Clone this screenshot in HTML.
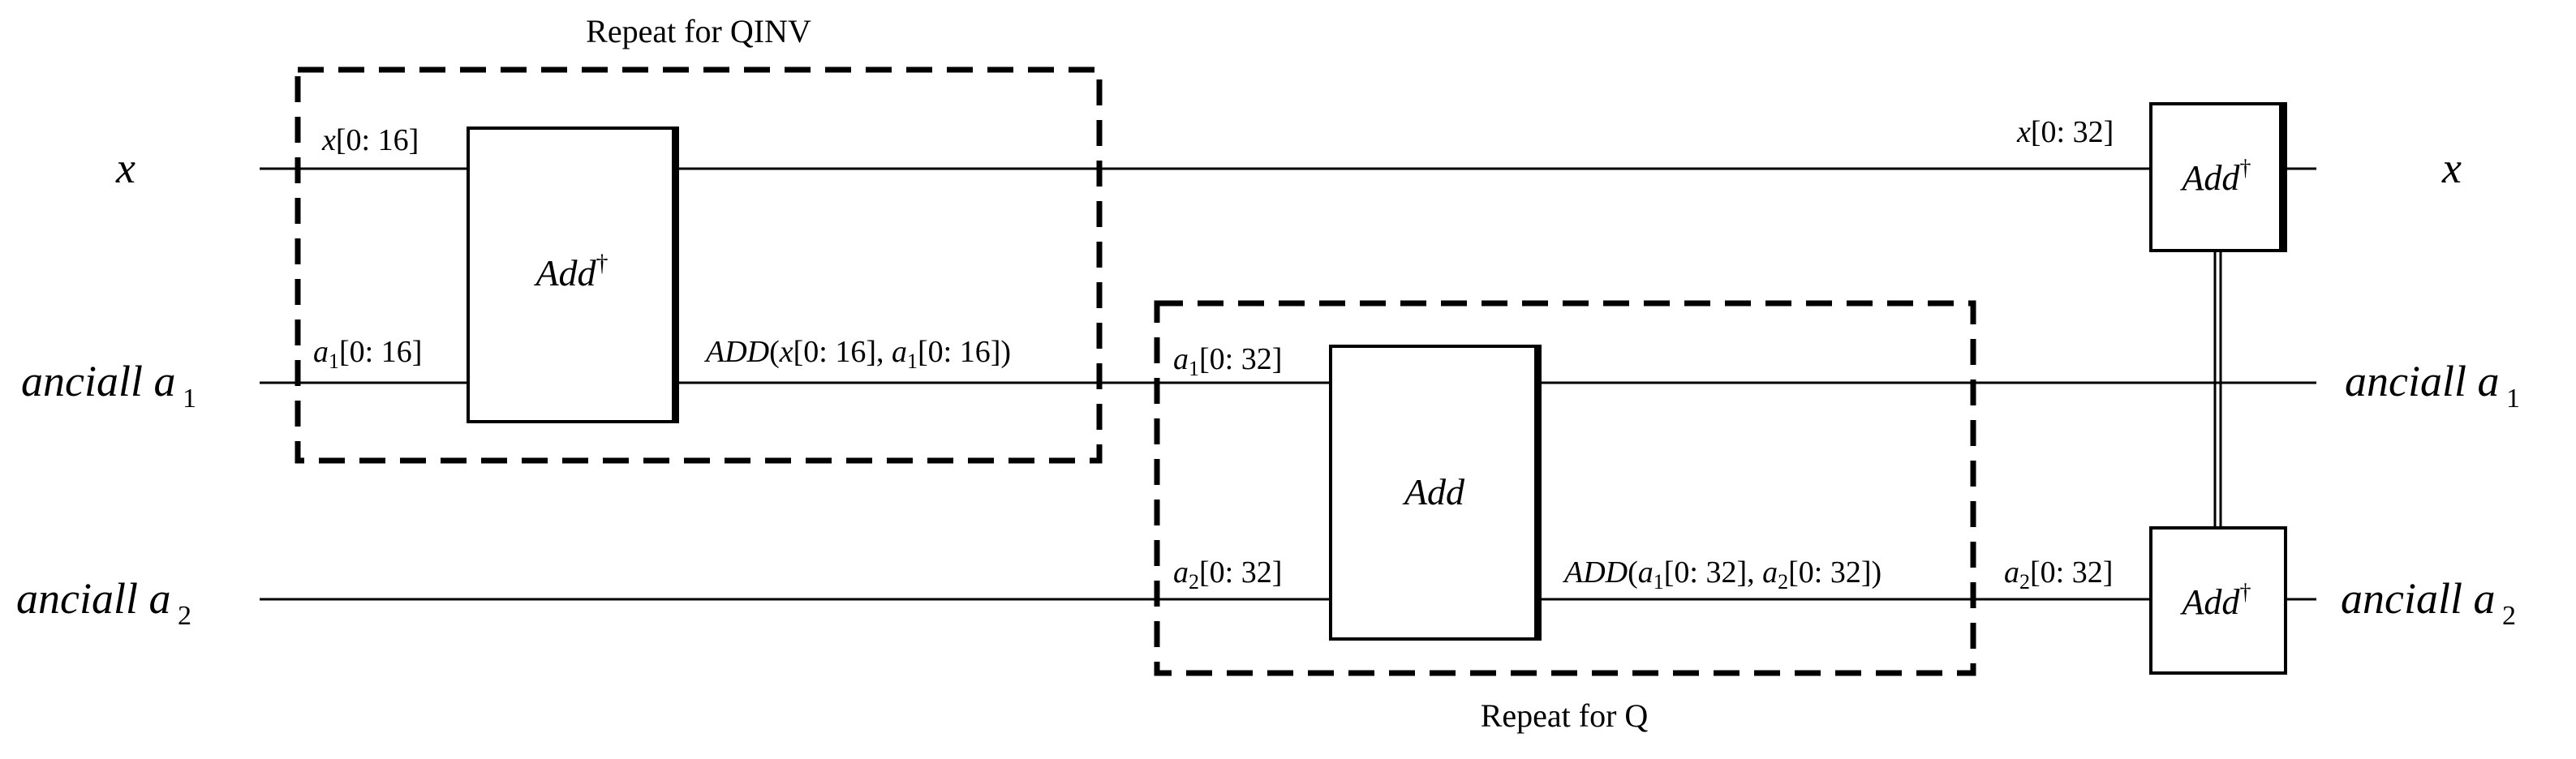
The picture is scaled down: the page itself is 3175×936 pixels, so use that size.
<!DOCTYPE html>
<html><head><meta charset="utf-8"><style>
html,body{margin:0;padding:0;background:#fff;}
svg{display:block;}
text{font-family:"Liberation Serif",serif;fill:#000;}
.it{font-style:italic;}
.lb{font-size:38px;font-style:italic;}
.big{font-size:54px;font-style:italic;}
</style></head><body>
<svg width="3175" height="936" viewBox="0 0 3175 936" xmlns="http://www.w3.org/2000/svg">
<g stroke="#000" stroke-width="3" fill="none">
<line x1="320" y1="208" x2="2855" y2="208"/>
<line x1="320" y1="472" x2="2855" y2="472"/>
<line x1="320" y1="739" x2="2855" y2="739"/>
<line x1="2730" y1="310" x2="2730" y2="650"/>
<line x1="2737" y1="310" x2="2737" y2="650"/>
</g>
<g stroke="#000" stroke-width="7" fill="none" stroke-dasharray="32,18">
<rect x="367" y="86" width="988" height="482"/>
<rect x="1426" y="374" width="1006" height="456"/>
</g>
<g fill="#fff" stroke="#000" stroke-width="4">
<rect x="577" y="158" width="257" height="362"/>
<rect x="1640" y="427" width="257" height="361"/>
<rect x="2651" y="128" width="166" height="181"/>
<rect x="2651" y="651" width="166" height="179"/>
</g>
<g fill="#000">
<rect x="828" y="156" width="9" height="366"/>
<rect x="1891" y="425" width="9" height="365"/>
<rect x="2809" y="126" width="10" height="185"/>
</g>
<text x="861" y="52" font-size="40" text-anchor="middle">Repeat for QINV</text>
<text x="1928" y="896" font-size="40" text-anchor="middle">Repeat for Q</text>
<text class="big" x="143" y="225">x</text>
<text class="big" x="26" y="488">anciall a<tspan font-size="34" dy="14" font-style="normal"> 1</tspan></text>
<text class="big" x="20" y="756">anciall a<tspan font-size="34" dy="14" font-style="normal"> 2</tspan></text>
<text class="big" x="3010" y="225">x</text>
<text class="big" x="2890" y="488">anciall a<tspan font-size="34" dy="14" font-style="normal"> 1</tspan></text>
<text class="big" x="2885" y="756">anciall a<tspan font-size="34" dy="14" font-style="normal"> 2</tspan></text>
<text class="lb" x="397" y="185">x<tspan font-style="normal">[0: 16]</tspan></text>
<text class="lb" x="386" y="446">a<tspan font-size="26" dy="8" font-style="normal">1</tspan><tspan dy="-8" font-style="normal">[0: 16]</tspan></text>
<text class="lb" x="870" y="446">ADD<tspan font-style="normal">(</tspan>x<tspan font-style="normal">[0: 16], </tspan>a<tspan font-size="26" dy="8" font-style="normal">1</tspan><tspan dy="-8" font-style="normal">[0: 16])</tspan></text>
<text class="lb" x="1446" y="455">a<tspan font-size="26" dy="8" font-style="normal">1</tspan><tspan dy="-8" font-style="normal">[0: 32]</tspan></text>
<text class="lb" x="1446" y="718">a<tspan font-size="26" dy="8" font-style="normal">2</tspan><tspan dy="-8" font-style="normal">[0: 32]</tspan></text>
<text class="lb" x="1928" y="718">ADD<tspan font-style="normal">(</tspan>a<tspan font-size="26" dy="8" font-style="normal">1</tspan><tspan dy="-8" font-style="normal">[0: 32], </tspan>a<tspan font-size="26" dy="8" font-style="normal">2</tspan><tspan dy="-8" font-style="normal">[0: 32])</tspan></text>
<text class="lb" x="2486" y="175">x<tspan font-style="normal">[0: 32]</tspan></text>
<text class="lb" x="2470" y="718">a<tspan font-size="26" dy="8" font-style="normal">2</tspan><tspan dy="-8" font-style="normal">[0: 32]</tspan></text>
<text x="705" y="352" font-size="46" text-anchor="middle"><tspan font-style="italic">Add</tspan><tspan font-size="30" dy="-18">†</tspan></text>
<text x="1768" y="622" font-size="46" text-anchor="middle" font-style="italic">Add</text>
<text x="2732" y="234" font-size="44" text-anchor="middle"><tspan font-style="italic">Add</tspan><tspan font-size="28" dy="-18">†</tspan></text>
<text x="2732" y="757" font-size="44" text-anchor="middle"><tspan font-style="italic">Add</tspan><tspan font-size="28" dy="-18">†</tspan></text>
</svg>
</body></html>
